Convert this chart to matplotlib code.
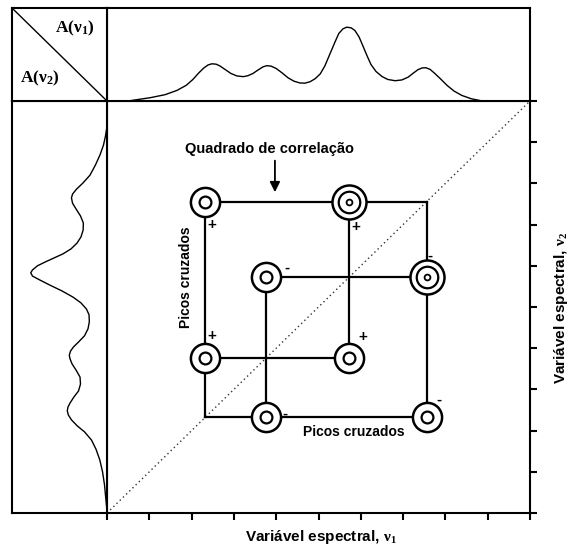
import matplotlib
matplotlib.use("Agg")
import matplotlib.pyplot as plt

plt.rcParams["mathtext.fontset"] = "custom"
plt.rcParams["mathtext.rm"] = "Liberation Serif"
plt.rcParams["mathtext.bf"] = "Liberation Serif:bold"
plt.rcParams["mathtext.it"] = "Liberation Serif:italic"

W, H = 576, 550

# band positions (same on nu1 and nu2)
nu_peaks = [2.32, 3.77, 5.72, 7.56]

# cross peaks: column (nu1 index), row (nu2 index), sign, number of rings
cp_col = [0, 2, 1, 3, 0, 2, 1, 3]
cp_row = [3, 3, 2, 2, 1, 1, 0, 0]
cp_sign = ["+", "+", "-", "-", "+", "+", "-", "-"]
cp_rings = [2, 3, 2, 3, 2, 2, 2, 2]

# sides of the correlation squares, as (col, row) index pairs
seg_start = [(0, 3), (3, 3), (0, 0), (0, 0), (1, 2), (1, 0), (0, 1), (2, 1)]
seg_end = [(3, 3), (3, 0), (3, 0), (0, 3), (3, 2), (1, 2), (2, 1), (2, 3)]

# 1D spectrum A(nu1)
top_nu = [0.35, 0.66, 1.02, 1.37, 1.65, 1.87, 2.03, 2.17, 2.29, 2.39, 2.48, 2.58,
          2.67, 2.79, 2.93, 3.07, 3.22, 3.33, 3.45, 3.57, 3.69, 3.78, 3.88, 4.00,
          4.14, 4.28, 4.42, 4.56, 4.68, 4.80, 4.92, 5.04, 5.15, 5.27, 5.39, 5.48,
          5.58, 5.67, 5.77, 5.86, 5.96, 6.05, 6.15, 6.24, 6.36, 6.50, 6.64, 6.81,
          6.97, 7.12, 7.23, 7.35, 7.45, 7.54, 7.64, 7.75, 7.90, 8.04, 8.20, 8.39,
          8.61, 8.84, 9.10]
top_amp = [0.0, 0.021, 0.045, 0.077, 0.122, 0.176, 0.239, 0.309, 0.362, 0.394, 0.406, 0.402,
           0.383, 0.346, 0.303, 0.277, 0.269, 0.279, 0.303, 0.340, 0.374, 0.386, 0.381, 0.356,
           0.309, 0.257, 0.221, 0.202, 0.200, 0.215, 0.247, 0.298, 0.383, 0.511, 0.638, 0.729,
           0.779, 0.796, 0.789, 0.761, 0.691, 0.596, 0.489, 0.399, 0.324, 0.271, 0.239, 0.226,
           0.234, 0.264, 0.303, 0.343, 0.362, 0.364, 0.346, 0.303, 0.239, 0.176, 0.117, 0.069,
           0.034, 0.013, 0.0]

# 1D spectrum A(nu2)
left_nu = [9.34, 9.15, 8.93, 8.69, 8.45, 8.20, 8.01, 7.86, 7.74, 7.65, 7.52, 7.38,
           7.21, 7.04, 6.87, 6.70, 6.55, 6.41, 6.29, 6.19, 6.09, 6.00, 5.90, 5.83,
           5.75, 5.66, 5.53, 5.39, 5.24, 5.10, 4.95, 4.81, 4.64, 4.47, 4.30, 4.15,
           4.03, 3.93, 3.83, 3.74, 3.62, 3.47, 3.30, 3.13, 2.96, 2.82, 2.67, 2.57,
           2.48, 2.38, 2.26, 2.11, 1.97, 1.77, 1.55, 1.29, 1.00, 0.68, 0.36, 0.12]
left_amp = [0.003, 0.016, 0.037, 0.074, 0.121, 0.179, 0.253, 0.321, 0.363, 0.374, 0.363, 0.326,
            0.279, 0.249, 0.251, 0.274, 0.316, 0.379, 0.463, 0.558, 0.653, 0.732, 0.784, 0.803,
            0.784, 0.711, 0.600, 0.474, 0.358, 0.274, 0.216, 0.189, 0.186, 0.200, 0.237, 0.300,
            0.353, 0.384, 0.397, 0.389, 0.368, 0.326, 0.284, 0.279, 0.300, 0.347, 0.389, 0.411,
            0.418, 0.407, 0.374, 0.311, 0.237, 0.163, 0.116, 0.076, 0.047, 0.026, 0.013, 0.003]

# label offsets of the signs from each peak, in pixels (layout only)
sign_offsets = [(7, -23), (7, -25), (20, 10), (3, 22), (7, 22), (14, 21), (18, 4), (12, 18)]

LW = 1.5
NARROW = ["Liberation Sans Narrow", "Liberation Sans", "DejaVu Sans"]
SANS = ["Liberation Sans", "DejaVu Sans"]
SERIF = ["Liberation Serif", "DejaVu Serif"]


def px_axes(fig, x0, y0, x1, y1):
    return fig.add_axes([x0 / W, 1 - y1 / H, (x1 - x0) / W, (y1 - y0) / H])


def frame(ax):
    ax.set_xticks([])
    ax.set_yticks([])
    for s in ax.spines.values():
        s.set_linewidth(LW)
        s.set_color("black")


fig = plt.figure(figsize=(W / 100, H / 100), dpi=100)

ax = px_axes(fig, 107, 101, 530, 513)
ax_top = px_axes(fig, 107, 8, 530, 101)
ax_left = px_axes(fig, 12, 101, 107, 513)
ax_corner = px_axes(fig, 12, 8, 107, 101)

# main 2D map
ax.set_xlim(0, 10)
ax.set_ylim(0, 10)
for s in ax.spines.values():
    s.set_linewidth(LW)
ax.set_xticks(range(11))
ax.set_yticks(range(11))
ax.yaxis.tick_right()
ax.tick_params(direction="out", length=5, width=LW, labelbottom=False, labelright=False)

ax.plot([0, 10], [0, 10], ls=(0, (1, 2.2)), lw=1.0, color="0.2", zorder=1)

for a, b in zip(seg_start, seg_end):
    ax.plot([nu_peaks[a[0]], nu_peaks[b[0]]], [nu_peaks[a[1]], nu_peaks[b[1]]],
            color="black", lw=1.6, zorder=2, solid_capstyle="projecting")

for c, r, sign, rings, off in zip(cp_col, cp_row, cp_sign, cp_rings, sign_offsets):
    x, y = nu_peaks[c], nu_peaks[r]
    if rings == 2:
        ax.plot(x, y, "o", ms=21, mfc="white", mec="black", mew=1.8, zorder=4)
        ax.plot(x, y, "o", ms=8.5, mfc="none", mec="black", mew=1.6, zorder=5)
    else:
        ax.plot(x, y, "o", ms=24.5, mfc="white", mec="black", mew=1.8, zorder=4)
        ax.plot(x, y, "o", ms=15.5, mfc="none", mec="black", mew=1.6, zorder=5)
        ax.plot(x, y, "o", ms=4.2, mfc="none", mec="black", mew=1.3, zorder=5)
    ax.annotate(sign, (x, y), xytext=off, textcoords="offset pixels", ha="center",
                va="center", fontsize=11, fontweight="bold", family=SANS, zorder=6)

ax.text(0.385, 0.883, "Quadrado de correlação", transform=ax.transAxes, ha="center",
        va="center", fontsize=10.5, fontweight="bold", family=NARROW)
ax.annotate("", xy=(0.397, 0.772), xytext=(0.397, 0.862), xycoords="axes fraction",
            arrowprops=dict(arrowstyle="-|>,head_length=0.6,head_width=0.3",
                            color="black", lw=1.3))
ax.text(0.187, 0.573, "Picos cruzados", transform=ax.transAxes, ha="center",
        va="center", rotation=90, fontsize=10, fontweight="bold", family=NARROW)
ax.text(0.584, 0.197, "Picos cruzados", transform=ax.transAxes, ha="center",
        va="center", fontsize=10, fontweight="bold", family=NARROW)

# top spectrum
frame(ax_top)
ax_top.plot(top_nu, top_amp, color="black", lw=1.0)
ax_top.set_xlim(0, 10)
ax_top.set_ylim(0.01, 1.0)

# left spectrum
frame(ax_left)
ax_left.plot(left_amp, left_nu, color="black", lw=1.0)
ax_left.set_xlim(1.0, 0.0)
ax_left.set_ylim(0, 10)

# corner box
frame(ax_corner)
ax_corner.set_xlim(0, 1)
ax_corner.set_ylim(0, 1)
ax_corner.plot([0, 1], [1, 0], color="black", lw=1.0)
ax_corner.text(0.66, 0.78, r"A($\mathbf{\nu_1}$)", ha="center", va="center",
               fontsize=12.5, fontweight="bold", family=SERIF)
ax_corner.text(0.29, 0.24, r"A($\mathbf{\nu_2}$)", ha="center", va="center",
               fontsize=12.5, fontweight="bold", family=SERIF)

# axis titles
fig.text(321 / W, 1 - 537 / H, r"Variável espectral, $\mathbf{\nu_1}$",
         ha="center", va="center", fontsize=11, fontweight="bold", family=SANS)
fig.text(561 / W, 1 - 308 / H, r"Variável espectral, $\mathbf{\nu_2}$",
         ha="center", va="center", rotation=90, fontsize=11, fontweight="bold", family=SANS)

fig.savefig("out.png", dpi=100, facecolor="white")
